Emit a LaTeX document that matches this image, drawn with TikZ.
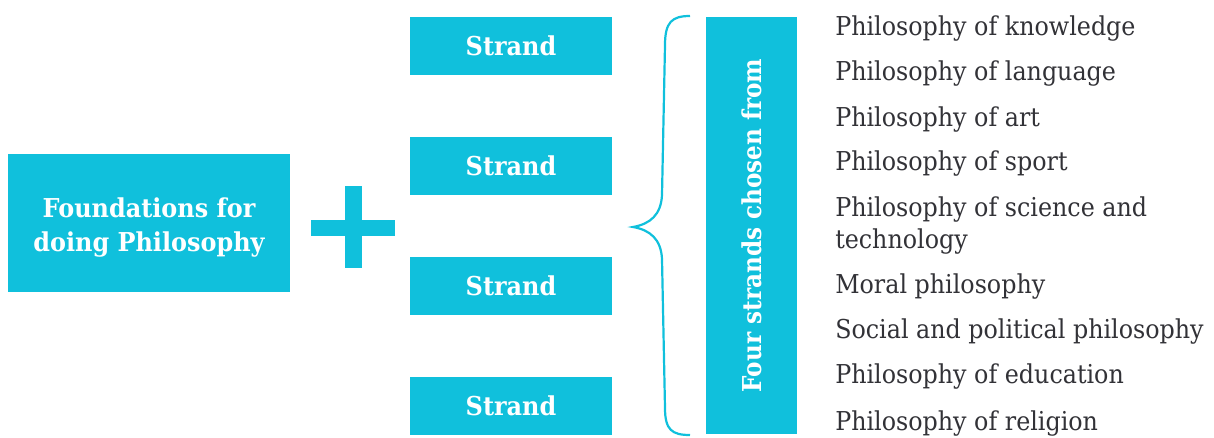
\documentclass[tikz,border=0pt]{standalone}
\usepackage{fontspec}
\setmainfont{DejaVu Serif}[FakeStretch=0.915]
\newfontfamily\boldslab{DejaVu Serif}[FakeStretch=0.92]
\newfontfamily\rotslab{DejaVu Serif}[FakeStretch=0.89]
\definecolor{cyanbox}{RGB}{16,192,220}
\definecolor{bodytext}{RGB}{50,50,55}
\begin{document}
\begin{tikzpicture}[x=0.75pt,y=-0.75pt,
  box/.style={fill=cyanbox,draw=none,inner sep=0pt,text=white,font=\boldslab\fontsize{19.5pt}{26pt}\selectfont\bfseries,align=center},
  item/.style={anchor=base west,inner sep=0pt,text=bodytext,font=\fontsize{19.5pt}{24pt}\selectfont,align=left}]
\useasboundingbox (0,0) rectangle (1214,437);
\node[box,minimum width=282*0.75pt,minimum height=138*0.75pt] (found) at (149,223) {};
\node[box,fill=none] (foundtxt) at ([yshift=-4.5*0.75pt]found.center) {Foundations for\\doing Philosophy};
\fill[cyanbox] (311,220) rectangle (395,236);
\fill[cyanbox] (344.5,186) rectangle (361.5,268);
\node[box,minimum width=202*0.75pt,minimum height=58*0.75pt] (s1) at (511,46) {Strand};
\node[box,minimum width=202*0.75pt,minimum height=58*0.75pt] (s2) at (511,166) {Strand};
\node[box,minimum width=202*0.75pt,minimum height=58*0.75pt] (s3) at (511,286) {Strand};
\node[box,minimum width=202*0.75pt,minimum height=58*0.75pt] (s4) at (511,406) {Strand};
\draw[cyanbox,line width=2.2pt*0.75] (690,16) .. controls (672,16) and (665,22) .. (665,45)
  -- (662,195) .. controls (661,215) and (650,224) .. (633,227)
  .. controls (650,230) and (661,239) .. (662,259)
  -- (665,408) .. controls (665,430) and (672,435) .. (690,435);
\node[box,minimum width=91*0.75pt,minimum height=417*0.75pt] (four) at (751.5,225.5) {};
\node[rotate=90,text=white,inner sep=0pt,font=\rotslab\fontsize{19.5pt}{24pt}\selectfont\bfseries] (fourtxt) at (four.center) {Four strands chosen from};
\node[item] (i1) at (835,35) {Philosophy of knowledge};
\node[item] (i2) at (835,80) {Philosophy of language};
\node[item] (i3) at (835,126) {Philosophy of art};
\node[item] (i4) at (835,170) {Philosophy of sport};
\node[item] (i5) at (835,216) {Philosophy of science and};
\node[item] (i5b) at (835,248) {technology};
\node[item] (i6) at (835,293) {Moral philosophy};
\node[item] (i7) at (835,338) {Social and political philosophy};
\node[item] (i8) at (835,383) {Philosophy of education};
\node[item] (i9) at (835,430) {Philosophy of religion};
\end{tikzpicture}
\end{document}
